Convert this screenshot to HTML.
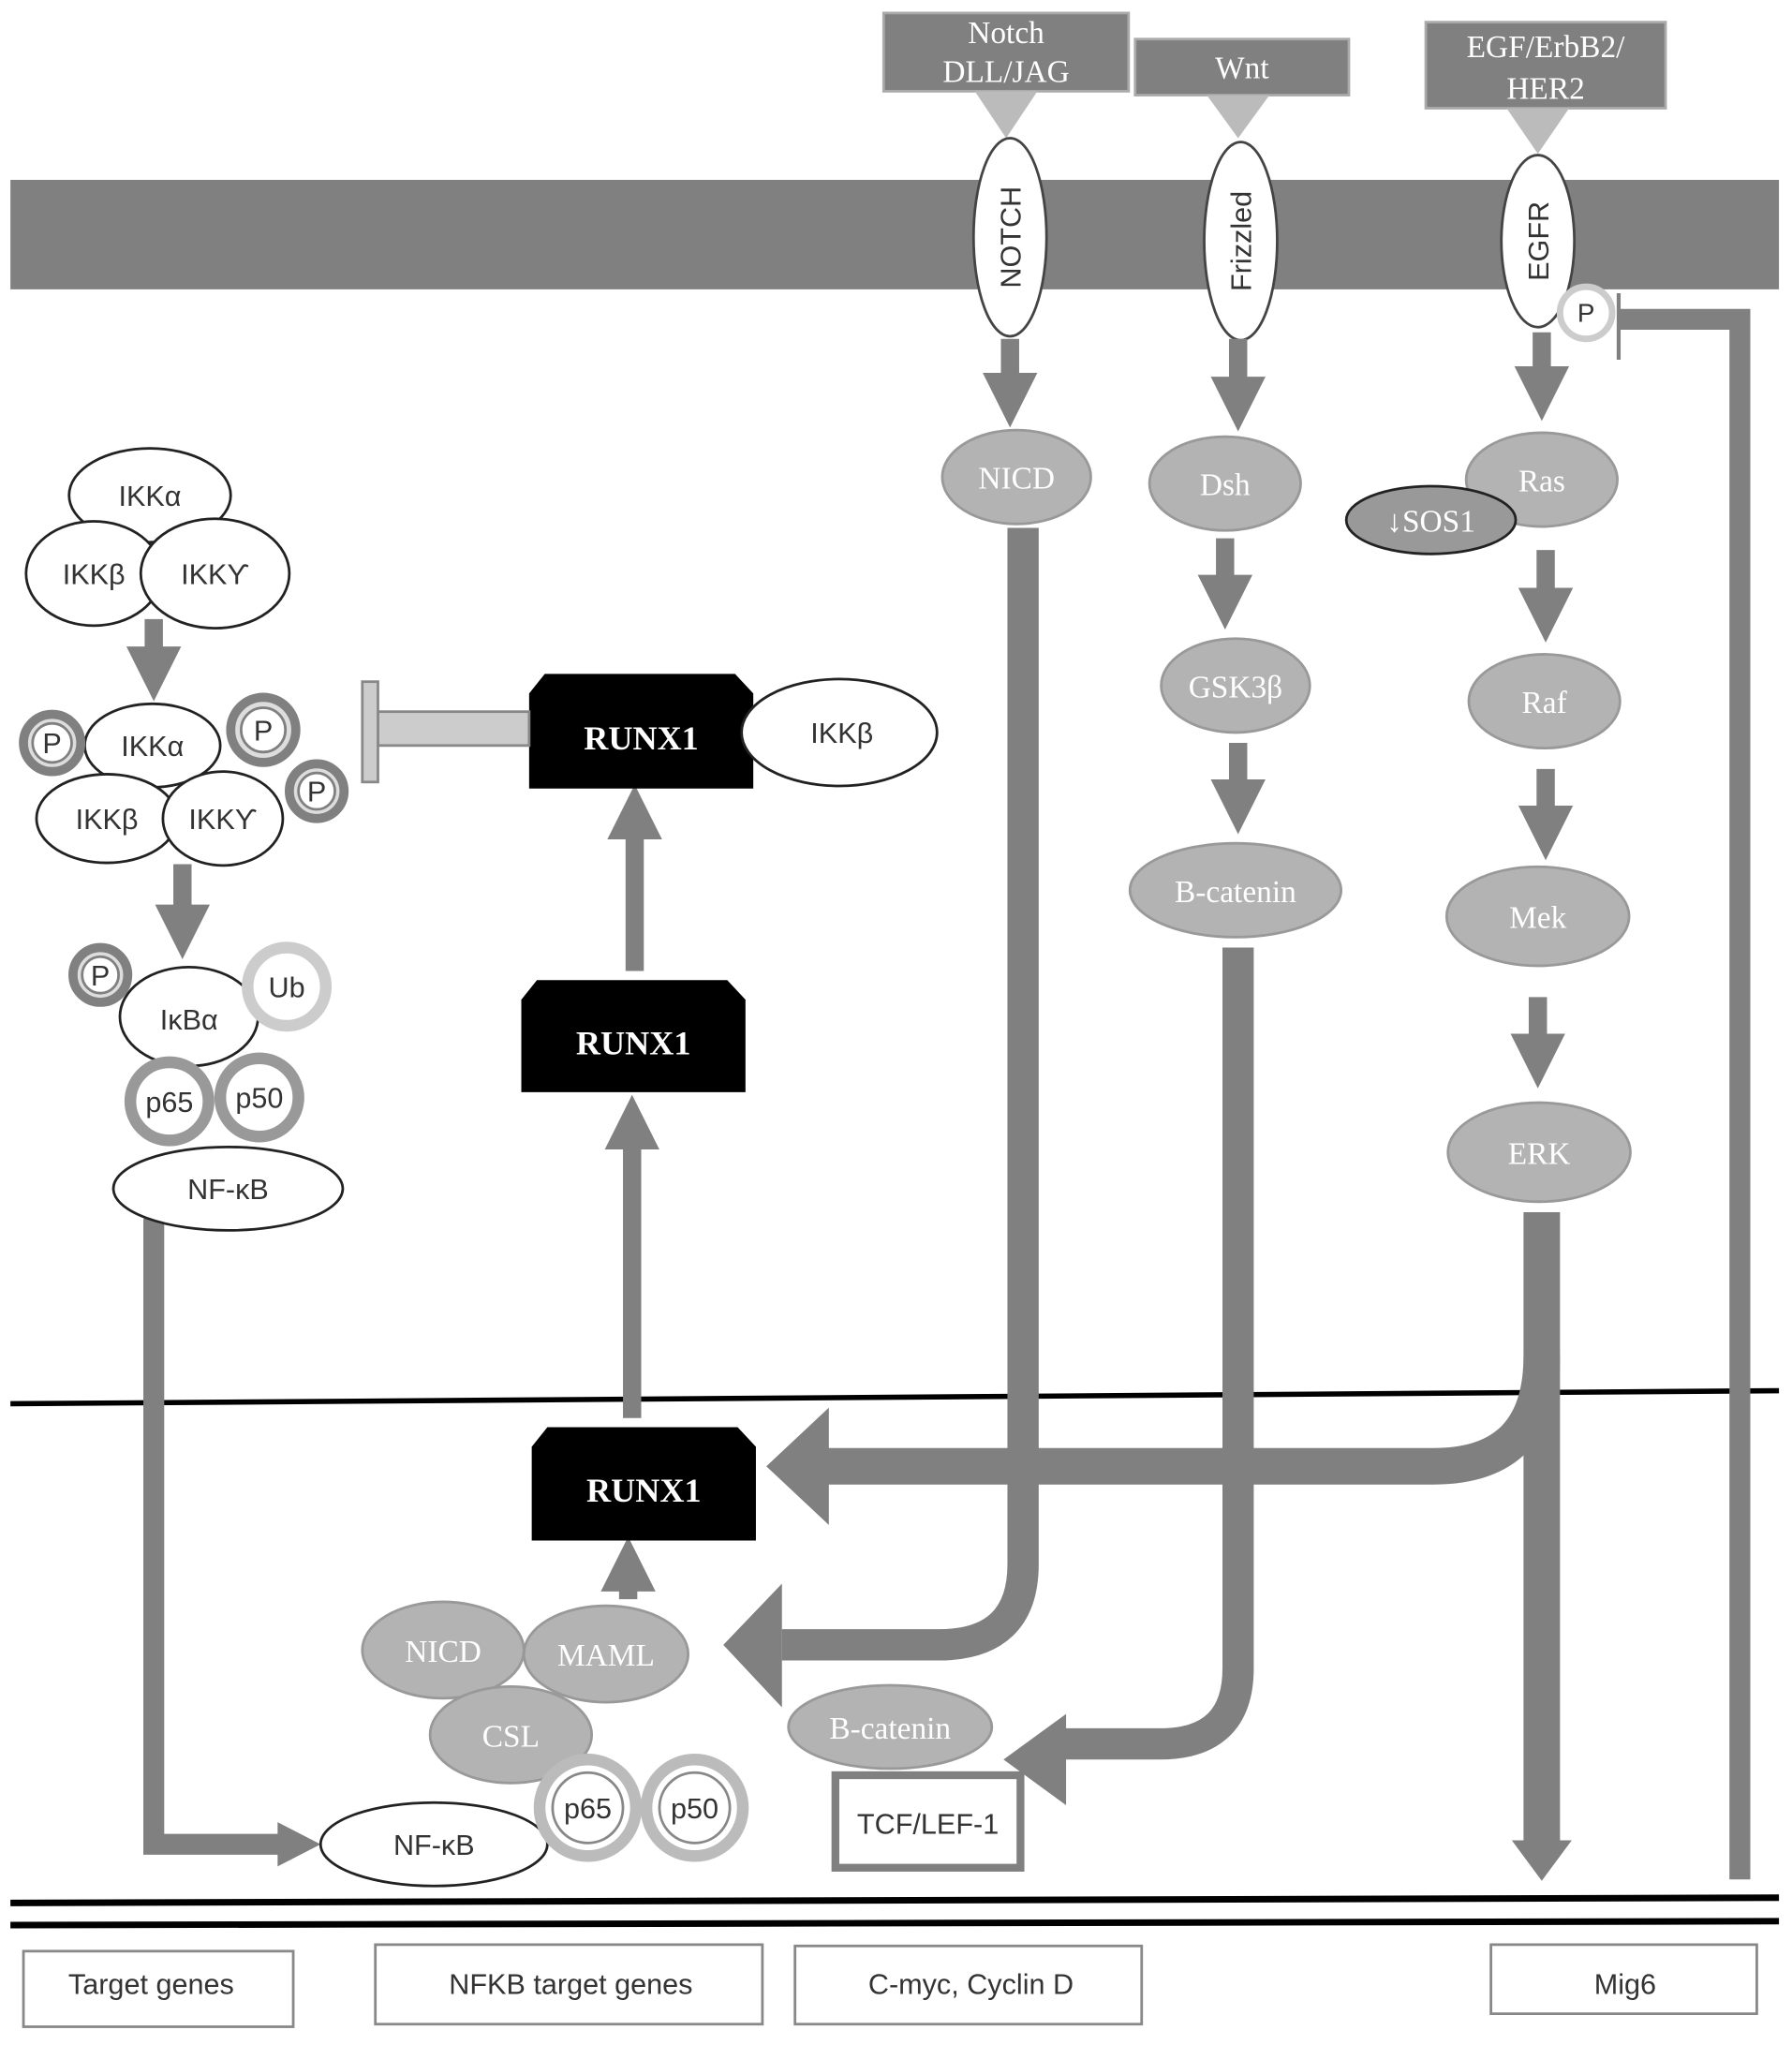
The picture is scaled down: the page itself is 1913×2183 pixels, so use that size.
<!DOCTYPE html>
<html><head><meta charset="utf-8"><style>
html,body{margin:0;padding:0;background:#fff}
svg{display:block}
.s{font-family:"Liberation Serif",serif;fill:#fff}
.a{font-family:"Liberation Sans",sans-serif;fill:#333}
</style></head><body>
<svg width="1913" height="2183" viewBox="0 0 1375 1569" preserveAspectRatio="none" xmlns="http://www.w3.org/2000/svg">
<defs>
<marker id="h" markerWidth="3" markerHeight="3" refX="1" refY="1.5" orient="auto" markerUnits="strokeWidth"><path d="M0,0 L3,1.5 L0,3z" fill="#808080"/></marker>
</defs>
<!-- membrane -->
<rect x="8" y="138" width="1357" height="84" fill="#808080"/>
<!-- nuclear line -->
<line x1="8" y1="1077" x2="1365" y2="1067" stroke="#000" stroke-width="4"/>
<line x1="8" y1="1460" x2="1365" y2="1456" stroke="#000" stroke-width="5"/>
<line x1="8" y1="1477" x2="1365" y2="1474" stroke="#000" stroke-width="5"/>
<!-- bottom boxes -->
<g fill="#fff" stroke="#888" stroke-width="2">
<rect x="18" y="1497" width="207" height="58"/>
<rect x="288" y="1492" width="297" height="61"/>
<rect x="610" y="1493" width="266" height="60"/>
<rect x="1144" y="1492" width="204" height="53"/>
</g>
<g class="a" font-size="22" text-anchor="middle">
<text x="116" y="1530">Target genes</text>
<text x="438" y="1530">NFKB target genes</text>
<text x="745" y="1530">C-myc, Cyclin D</text>
<text x="1247" y="1530">Mig6</text>
</g>
<!-- ligands -->
<g fill="#808080" stroke="#aaa" stroke-width="2">
<rect x="678" y="10" width="188" height="60"/>
<rect x="871" y="30" width="164" height="43"/>
<rect x="1094" y="17" width="184" height="66"/>
</g>
<g class="s" font-size="24" text-anchor="middle">
<text x="772" y="33">Notch</text><text x="772" y="63">DLL/JAG</text>
<text x="953" y="60">Wnt</text>
<text x="1186" y="44">EGF/ErbB2/</text><text x="1186" y="76">HER2</text>
</g>
<g fill="#bbb">
<path d="M748,70 L796,70 L772,106z"/>
<path d="M926,73 L974,73 L950,106z"/>
<path d="M1156,83 L1204,83 L1180,118z"/>
</g>
<g fill="#fff" stroke="#444" stroke-width="2">
<ellipse cx="775" cy="182" rx="28" ry="76"/>
<ellipse cx="952" cy="185" rx="28" ry="76"/>
<ellipse cx="1180" cy="185" rx="28" ry="66"/>
</g>
<g class="a" font-size="22" text-anchor="middle" fill="#222">
<text transform="translate(783,182) rotate(-90)">NOTCH</text>
<text transform="translate(960,185) rotate(-90)">Frizzled</text>
<text transform="translate(1188,185) rotate(-90)">EGFR</text>
</g>
<circle cx="1217" cy="240" r="20" fill="#fff" stroke="#ccc" stroke-width="5"/>
<text x="1217" y="247" class="a" font-size="20" text-anchor="middle">P</text>
<!-- feedback line -->
<path d="M1335,1442 L1335,245 L1242,245" fill="none" stroke="#808080" stroke-width="16"/>
<line x1="1242" y1="225" x2="1242" y2="276" stroke="#808080" stroke-width="3"/>
<!-- signal arrows -->
<g stroke="#808080" stroke-width="14" marker-end="url(#h)">
<line x1="775" y1="260" x2="775" y2="300"/>
<line x1="950" y1="260" x2="950" y2="303"/>
<line x1="1183" y1="255" x2="1183" y2="295"/>
<line x1="940" y1="413" x2="940" y2="455"/>
<line x1="950" y1="570" x2="950" y2="612"/>
<line x1="1186" y1="422" x2="1186" y2="465"/>
<line x1="1186" y1="590" x2="1186" y2="632"/>
<line x1="1180" y1="765" x2="1180" y2="807"/>
<line x1="118" y1="475" x2="118" y2="510"/>
<line x1="140" y1="663" x2="140" y2="708"/>
<line x1="485" y1="1088" x2="485" y2="868"/>
<line x1="487" y1="745" x2="487" y2="630"/>
<line x1="482" y1="1227" x2="482" y2="1207"/>
</g>
<!-- long curved connectors -->
<path d="M785,405 L785,1200 Q785,1262 720,1262 L600,1262" fill="none" stroke="#808080" stroke-width="24"/>
<path d="M600,1215 L555,1262 L600,1310z" fill="#808080"/>
<path d="M950,727 L950,1280 Q950,1338 890,1338 L815,1338" fill="none" stroke="#808080" stroke-width="24"/>
<path d="M818,1315 L770,1350 L818,1385z" fill="#808080"/>
<path d="M1183,930 L1183,1412" fill="none" stroke="#808080" stroke-width="28"/>
<path d="M1160,1412 L1206,1412 L1183,1443z" fill="#808080"/>
<path d="M1183,1040 Q1183,1125 1100,1125 L632,1125" fill="none" stroke="#808080" stroke-width="28"/>
<path d="M636,1080 L588,1125 L636,1170z" fill="#808080"/>
<path d="M118,935 L118,1415 L215,1415" fill="none" stroke="#808080" stroke-width="16"/>
<path d="M213,1398 L246,1415 L213,1432z" fill="#808080"/>
<!-- gray nodes -->
<g fill="#b3b3b3" stroke="#999" stroke-width="2">
<ellipse cx="780" cy="366" rx="57" ry="36"/>
<ellipse cx="940" cy="371" rx="58" ry="36"/>
<ellipse cx="1183" cy="368" rx="58" ry="36"/>
<ellipse cx="948" cy="526" rx="57" ry="36"/>
<ellipse cx="948" cy="683" rx="81" ry="36"/>
<ellipse cx="1185" cy="538" rx="58" ry="36"/>
<ellipse cx="1180" cy="703" rx="70" ry="38"/>
<ellipse cx="1181" cy="884" rx="70" ry="38"/>
<ellipse cx="683" cy="1325" rx="78" ry="32"/>
<ellipse cx="340" cy="1266" rx="62" ry="37"/>
<ellipse cx="392" cy="1331" rx="62" ry="37"/>
<ellipse cx="465" cy="1269" rx="63" ry="37"/>
</g>
<ellipse cx="1098" cy="399" rx="65" ry="26" fill="#999" stroke="#222" stroke-width="2"/>
<g class="s" font-size="24" text-anchor="middle">
<text x="780" y="375">NICD</text><text x="940" y="380">Dsh</text><text x="1183" y="377">Ras</text>
<text x="1098" y="408">↓SOS1</text><text x="948" y="535">GSK3β</text><text x="948" y="692">B-catenin</text>
<text x="1185" y="547">Raf</text><text x="1180" y="712">Mek</text><text x="1181" y="893">ERK</text>
<text x="683" y="1334">B-catenin</text><text x="340" y="1275">NICD</text><text x="392" y="1340">CSL</text><text x="465" y="1278">MAML</text>
</g>
<rect x="641" y="1362" width="142" height="71" fill="#fff" stroke="#808080" stroke-width="6"/>
<text x="712" y="1407" class="a" font-size="22" text-anchor="middle">TCF/LEF-1</text>
<!-- RUNX1 -->
<g fill="#000">
<path d="M420,1095 L566,1095 L580,1110 L580,1182 L408,1182 L408,1110z"/>
<path d="M412,752 L558,752 L572,767 L572,838 L400,838 L400,767z"/>
<path d="M418,517 L564,517 L578,532 L578,605 L406,605 L406,532z"/>
</g>
<g class="s" font-size="26" font-weight="bold" text-anchor="middle">
<text x="494" y="1152">RUNX1</text><text x="486" y="809">RUNX1</text><text x="492" y="575">RUNX1</text>
</g>
<ellipse cx="644" cy="562" rx="75" ry="41" fill="#fff" stroke="#222" stroke-width="2"/>
<text x="646" y="570" class="a" font-size="22" text-anchor="middle">IKKβ</text>
<rect x="290" y="546" width="116" height="26" fill="#ccc" stroke="#888" stroke-width="2"/>
<rect x="278" y="523" width="12" height="77" fill="#ccc" stroke="#888" stroke-width="2"/>
<!-- IKK complexes -->
<g fill="#fff" stroke="#222" stroke-width="2">
<ellipse cx="115" cy="380" rx="62" ry="36"/>
<ellipse cx="72" cy="440" rx="52" ry="40"/>
<ellipse cx="165" cy="440" rx="57" ry="42"/>
<ellipse cx="117" cy="572" rx="52" ry="32"/>
<ellipse cx="82" cy="628" rx="54" ry="34"/>
<ellipse cx="171" cy="628" rx="46" ry="36"/>
<ellipse cx="145" cy="780" rx="53" ry="38"/>
<ellipse cx="175" cy="912" rx="88" ry="32"/>
<ellipse cx="333" cy="1415" rx="87" ry="32"/>
</g>
<g fill="#ddd" stroke="#808080" stroke-width="7">
<circle cx="40" cy="570" r="22"/><circle cx="202" cy="560" r="25"/><circle cx="243" cy="607" r="21"/>
<circle cx="77" cy="748" r="21"/>
</g>
<g fill="#fff" stroke="#808080" stroke-width="2">
<circle cx="40" cy="570" r="15"/><circle cx="202" cy="560" r="17"/><circle cx="243" cy="607" r="14"/>
<circle cx="77" cy="748" r="14"/>
</g>
<circle cx="220" cy="757" r="30" fill="#fff" stroke="#ccc" stroke-width="9"/>
<g fill="#fff" stroke="#999" stroke-width="9">
<circle cx="130" cy="845" r="30"/><circle cx="199" cy="842" r="30"/>
</g>
<g fill="#fff" stroke="#bbb" stroke-width="9">
<circle cx="451" cy="1387" r="37"/><circle cx="533" cy="1387" r="37"/>
</g>
<g fill="#fff" stroke="#888" stroke-width="2">
<circle cx="451" cy="1387" r="27"/><circle cx="533" cy="1387" r="27"/>
</g>
<g class="a" font-size="22" text-anchor="middle">
<text x="115" y="388">IKKα</text><text x="72" y="448">IKKβ</text><text x="165" y="448">IKKϒ</text>
<text x="117" y="580">IKKα</text><text x="82" y="636">IKKβ</text><text x="171" y="636">IKKϒ</text>
<text x="40" y="578">P</text><text x="202" y="568">P</text><text x="243" y="615">P</text><text x="77" y="756">P</text>
<text x="220" y="765">Ub</text><text x="145" y="790">IκBα</text>
<text x="130" y="853">p65</text><text x="199" y="850">p50</text>
<text x="175" y="920">NF-κB</text><text x="333" y="1423">NF-κB</text>
<text x="451" y="1395">p65</text><text x="533" y="1395">p50</text>
</g>
</svg>
</body></html>
